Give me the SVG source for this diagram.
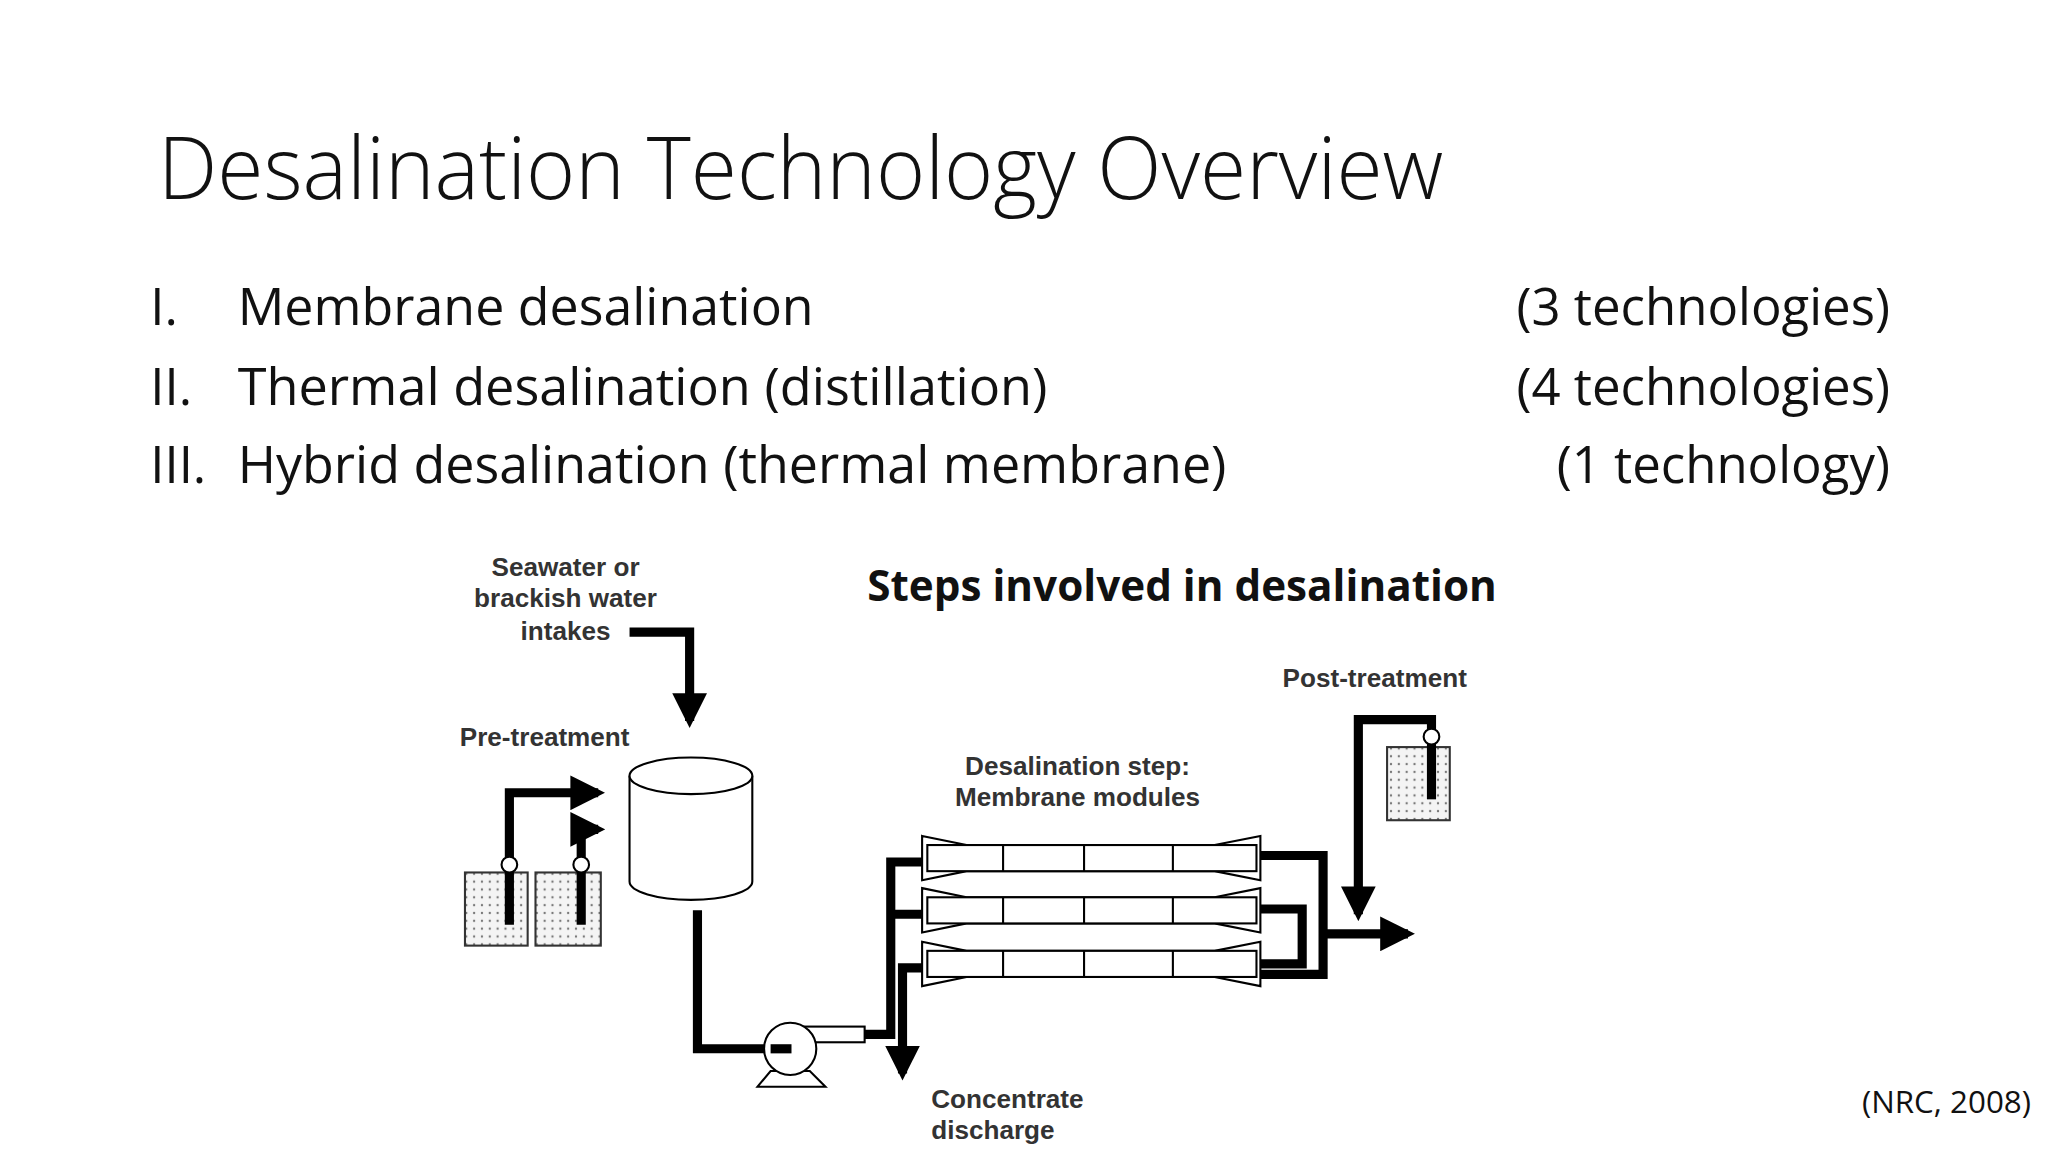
<svg xmlns="http://www.w3.org/2000/svg" width="2048" height="1152" viewBox="0 0 2048 1152">
<style>
.t{font-family:"Open Sans","Liberation Sans",sans-serif;fill:#111}
.d{font-family:"Liberation Sans",Arial,sans-serif;font-weight:bold;font-size:20px;fill:#333}
.p{fill:none;stroke:#000;stroke-width:7}
.o{fill:#fff;stroke:#000;stroke-width:1.6}
.bx{fill:url(#dots);stroke:#333;stroke-width:1.6}
</style>
<defs>
<pattern id="dots" width="6" height="6" patternUnits="userSpaceOnUse"><rect width="6" height="6" fill="#f4f4f4"/><circle cx="3" cy="3" r="0.9" fill="#777"/></pattern>
<marker id="ah" viewBox="0 0 10 10" refX="8" refY="5" markerWidth="3.8" markerHeight="3.8" orient="auto" markerUnits="strokeWidth"><path d="M0,0 L10,5 L0,10 z" fill="#000"/></marker>
</defs>
<rect width="2048" height="1152" fill="#fff"/>
<g transform="scale(1.3061)">
<g id="title"><text class="t" x="121" y="152" font-size="66" font-weight="300" textLength="984" lengthAdjust="spacingAndGlyphs">Desalination Technology Overview</text></g>
<g id="list" class="t" font-size="39" font-weight="400">
<text x="115" y="249">I.</text><text x="182" y="249" textLength="441" lengthAdjust="spacingAndGlyphs">Membrane desalination</text><text x="1447" y="249" text-anchor="end">(3 technologies)</text>
<text x="115" y="310">II.</text><text x="182" y="310" textLength="620" lengthAdjust="spacingAndGlyphs">Thermal desalination (distillation)</text><text x="1447" y="310" text-anchor="end">(4 technologies)</text>
<text x="115" y="370">III.</text><text x="182" y="370" textLength="757" lengthAdjust="spacingAndGlyphs">Hybrid desalination (thermal membrane)</text><text x="1447" y="370" text-anchor="end">(1 technology)</text>
</g>
<g id="subtitle"><text class="t" x="664" y="460" font-size="33" font-weight="bold" textLength="482" lengthAdjust="spacingAndGlyphs">Steps involved in desalination</text></g>
<g id="cite"><text class="t" x="1555" y="852" font-size="24" text-anchor="end">(NRC, 2008)</text></g>

<g id="connectors">
<path class="p" d="M482,484 H528 V552" marker-end="url(#ah)"/>
<path class="p" d="M390,662 V607 H458" marker-end="url(#ah)"/>
<path class="p" d="M445,662 V635 H458" marker-end="url(#ah)"/>
<path class="p" d="M534,697 V803 H605"/>
<path class="p" d="M660,792 H682 V660 H708 M682,700 H708"/>
<path class="p" d="M708,741 H691 V822" marker-end="url(#ah)"/>
<path class="p" d="M962,655 H1013 V715 M962,696 H997 V738 H962 M962,746 H1013 V715 M1013,715 H1078" marker-end="url(#ah)"/>
<path class="p" d="M1096,562 V551 H1040 V700" marker-end="url(#ah)"/>
</g>

<g id="intake"><text class="d" x="433" y="441" text-anchor="middle">Seawater or</text><text class="d" x="433" y="465" text-anchor="middle">brackish water</text><text class="d" x="433" y="490" text-anchor="middle">intakes</text></g>
<g id="pretreatment">
<text class="d" x="352" y="571">Pre-treatment</text>
<rect class="bx" x="356" y="668" width="48" height="56"/>
<rect class="bx" x="410" y="668" width="50" height="56"/>
<path class="p" d="M390,662 V708 M445,662 V708"/>
<circle class="o" cx="390" cy="662" r="6"/><circle class="o" cx="445" cy="662" r="6"/>
</g>
<g id="tank">
<path class="o" d="M482,594 V675 A47,14 0 0 0 576,675 V594"/>
<ellipse class="o" cx="529" cy="594" rx="47" ry="14"/>
</g>
<g id="pump">
<rect class="o" x="612" y="786" width="50" height="12"/>
<path class="o" d="M580,832 L590,820 H620 L632,832 Z"/>
<circle class="o" cx="605" cy="803" r="20"/>
<path class="p" d="M590,803 H606"/>
</g>
<g id="modules">
<text class="d" x="825" y="593" text-anchor="middle">Desalination step:</text>
<text class="d" x="825" y="617" text-anchor="middle">Membrane modules</text>
<g id="m1"><path class="o" d="M706,640 L740,647 H930 L965,640 V674 L930,667 H740 L706,674 Z"/><rect class="o" x="710" y="647" width="252" height="20"/><path class="o" d="M768,647 V667 M830,647 V667 M898,647 V667"/></g>
<g id="m2"><path class="o" d="M706,680 L740,687 H930 L965,680 V714 L930,707 H740 L706,714 Z"/><rect class="o" x="710" y="687" width="252" height="20"/><path class="o" d="M768,687 V707 M830,687 V707 M898,687 V707"/></g>
<g id="m3"><path class="o" d="M706,721 L740,728 H930 L965,721 V755 L930,748 H740 L706,755 Z"/><rect class="o" x="710" y="728" width="252" height="20"/><path class="o" d="M768,728 V748 M830,728 V748 M898,728 V748"/></g>
</g>
<g id="concentrate"><text class="d" x="713" y="848">Concentrate</text><text class="d" x="713" y="872">discharge</text></g>
<g id="posttreatment">
<text class="d" x="982" y="526">Post-treatment</text>
<rect class="bx" x="1062" y="572" width="48" height="56"/>
<path class="p" d="M1096,564 V612"/>
<circle class="o" cx="1096" cy="564" r="6"/>
</g>
</g>
</svg>
